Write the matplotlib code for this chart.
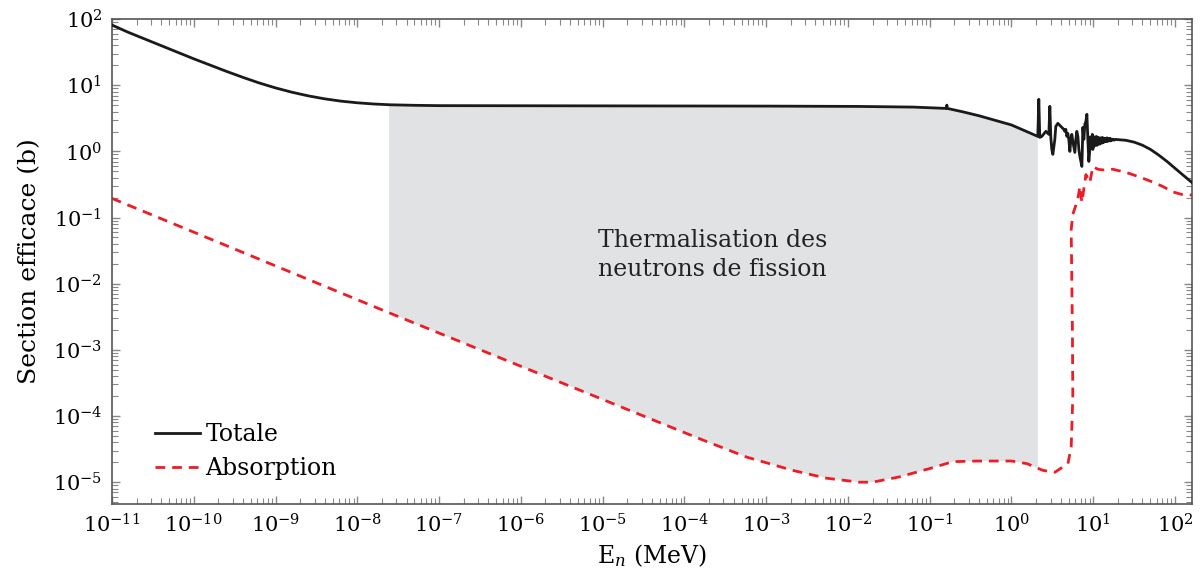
import matplotlib
matplotlib.use("Agg")
import matplotlib.pyplot as plt
from matplotlib.ticker import LogLocator, NullFormatter
import numpy as np

plt.rcParams['font.family'] = ['DejaVu Serif']
plt.rcParams['mathtext.fontset'] = 'dejavuserif'

# Section efficace totale : log10(E / MeV), log10(sigma / b)
log_e_tot = [-11.0, -10.8, -10.6, -10.4, -10.2, -10.0, -9.8, -9.6, -9.4, -9.2,
             -9.0, -8.8, -8.6, -8.4, -8.2, -8.0, -7.8, -7.6, -7.3, -7.0,
             -5.0, -3.0, -1.86, -1.2, -0.80, -0.79, -0.785, -0.6, -0.4, -0.2,
             0.0, 0.15, 0.26,
             0.322, 0.334, 0.346, 0.371, 0.420, 0.457, 0.469, 0.481, 0.493, 0.506,
             0.530, 0.542, 0.567, 0.591, 0.616, 0.640, 0.652, 0.665, 0.677, 0.689,
             0.701, 0.714, 0.726, 0.738, 0.750, 0.763, 0.775, 0.787, 0.799, 0.812,
             0.824, 0.836, 0.848, 0.861, 0.873, 0.885, 0.897, 0.910, 0.922, 0.934,
             0.946, 0.958, 0.965, 0.971, 0.977, 0.983, 0.989, 0.995, 1.001, 1.007,
             1.013, 1.020, 1.026, 1.032, 1.038, 1.044, 1.050, 1.057, 1.063, 1.069,
             1.075, 1.081, 1.087, 1.093, 1.100, 1.106, 1.112, 1.118, 1.124, 1.130,
             1.136, 1.142, 1.150, 1.158, 1.167, 1.175, 1.183, 1.191, 1.200, 1.208,
             1.215, 1.225, 1.240, 1.255, 1.277, 1.30, 1.33, 1.40, 1.50, 1.60,
             1.70, 1.80, 1.90, 2.0, 2.1, 2.207]
log_s_tot = [1.91, 1.80, 1.70, 1.60, 1.50, 1.40, 1.305, 1.21, 1.12, 1.035,
             0.96, 0.895, 0.84, 0.795, 0.76, 0.735, 0.717, 0.705, 0.697, 0.692,
             0.688, 0.685, 0.68, 0.67, 0.65, 0.70, 0.65, 0.60, 0.54, 0.47,
             0.40, 0.32, 0.26,
             0.227, 0.788, 0.212, 0.227, 0.303, 0.258, 0.682, 0.212, 0.030, -0.045,
             0.182, 0.379, 0.424, 0.394, 0.364, 0.333, 0.303, 0.333, 0.227, 0.273,
             0.182, 0.000, 0.182, 0.258, 0.152, 0.061, -0.015, 0.182, 0.303, 0.227,
             0.030, -0.076, -0.152, -0.227, 0.364, 0.182, 0.409, 0.455, 0.561, 0.182,
             -0.152, 0.030, 0.220, 0.061, 0.200, 0.040, 0.258, 0.030, 0.190, 0.076,
             0.220, 0.091, 0.200, 0.110, 0.227, 0.091, 0.190, 0.106, 0.212, 0.120,
             0.197, 0.110, 0.205, 0.130, 0.197, 0.125, 0.212, 0.136, 0.190, 0.140,
             0.200, 0.145, 0.197, 0.150, 0.205, 0.152, 0.190, 0.160, 0.197, 0.158,
             0.190, 0.165, 0.185, 0.170, 0.182, 0.178, 0.175, 0.168, 0.140, 0.095,
             0.030, -0.055, -0.15, -0.255, -0.36, -0.47]

# Section efficace d'absorption
log_e_abs = [-11.0, -7.61, -4.30, -3.78, -3.24, -2.68, -2.26, -1.86, -1.70, -1.37,
             -0.96, -0.72, -0.42, 0.0, 0.19, 0.38, 0.53, 0.69, 0.73, 0.75, 0.745,
             0.735, 0.73, 0.75, 0.81, 0.836, 0.861, 0.91, 0.958, 0.995, 1.056,
             1.118, 1.24, 1.41, 1.55, 1.70, 1.85, 1.97, 2.08, 2.207]
log_s_abs = [-0.71, -2.44, -4.10, -4.36, -4.62, -4.82, -4.94, -5.0, -5.0, -4.92,
             -4.78, -4.69, -4.68, -4.68, -4.72, -4.82, -4.85, -4.72, -4.47, -3.71, -2.70,
             -1.68, -1.18, -0.95, -0.73, -0.53, -0.77, -0.35, -0.47, -0.23, -0.27,
             -0.28, -0.27, -0.32, -0.38, -0.45, -0.53, -0.61, -0.65, -0.66]

# Domaine de thermalisation (MeV)
therm_min, therm_max = 2.45e-8, 2.1

e_tot = 10.0 ** np.array(log_e_tot)
s_tot = 10.0 ** np.array(log_s_tot)
e_abs = 10.0 ** np.array(log_e_abs)
s_abs = 10.0 ** np.array(log_s_abs)

fig = plt.figure(figsize=(12.04, 5.79), dpi=100)
ax = fig.add_axes([0.093, 0.1295, 0.897, 0.8375])

# zone grisee entre les deux courbes
lo, hi = np.log10(therm_min), np.log10(therm_max)
n_smooth = 17
le_t = np.array(log_e_tot)
ls_t = np.array(log_s_tot)
le_a = np.array(log_e_abs[:n_smooth])
ls_a = np.array(log_s_abs[:n_smooth])
mt = (le_t > lo) & (le_t < hi)
ma = (le_a > lo) & (le_a < hi)
top_x = np.concatenate([[lo], le_t[mt], [hi]])
top_y = np.concatenate([[np.interp(lo, le_t, ls_t)], ls_t[mt], [np.interp(hi, le_t, ls_t)]])
bot_x = np.concatenate([[lo], le_a[ma], [hi]])
bot_y = np.concatenate([[np.interp(lo, le_a, ls_a)], ls_a[ma], [np.interp(hi, le_a, ls_a)]])
poly_x = 10.0 ** np.concatenate([top_x, bot_x[::-1]])
poly_y = 10.0 ** np.concatenate([top_y, bot_y[::-1]])
ax.fill(poly_x, poly_y, color='#e1e2e4', lw=0, zorder=1)

ax.plot(e_tot, s_tot, color='#1a1a1a', lw=2.0, label='Totale', zorder=3)
ax.plot(e_abs, s_abs, color='#ee1c25', lw=2.0, ls=(0, (3.5, 2.5)), label='Absorption', zorder=2)

ax.set_xscale('log')
ax.set_yscale('log')
ax.set_xlim(1e-11, 10 ** 2.207)
ax.set_ylim(10 ** -5.33, 1e2)

ax.xaxis.set_major_locator(LogLocator(base=10, numticks=20))
ax.xaxis.set_minor_locator(LogLocator(base=10, subs=np.arange(2, 10), numticks=200))
ax.yaxis.set_major_locator(LogLocator(base=10, numticks=20))
ax.yaxis.set_minor_locator(LogLocator(base=10, subs=np.arange(2, 10), numticks=200))
ax.xaxis.set_minor_formatter(NullFormatter())
ax.yaxis.set_minor_formatter(NullFormatter())

ax.tick_params(which='both', direction='in', top=True, right=True, color='#888888',
               labelsize=15, pad=7)
ax.tick_params(which='major', length=6, width=1)
ax.tick_params(which='minor', length=4, width=0.8)
for s in ax.spines.values():
    s.set_color('#555555')
    s.set_linewidth(1.2)

ax.set_xlabel('E$_{n}$ (MeV)', fontsize=17, labelpad=4)
ax.set_ylabel('Section efficace (b)', fontsize=18, labelpad=8)

ax.text(0.556, 0.513, 'Thermalisation des\nneutrons de fission', transform=ax.transAxes,
        ha='center', va='center', fontsize=17, color='#222222', linespacing=1.35)

ax.legend(loc='lower left', bbox_to_anchor=(0.02, 0.005), frameon=False, fontsize=17,
          handlelength=1.9, handletextpad=0.25, labelspacing=0.47)

fig.savefig('out.png', dpi=100)
